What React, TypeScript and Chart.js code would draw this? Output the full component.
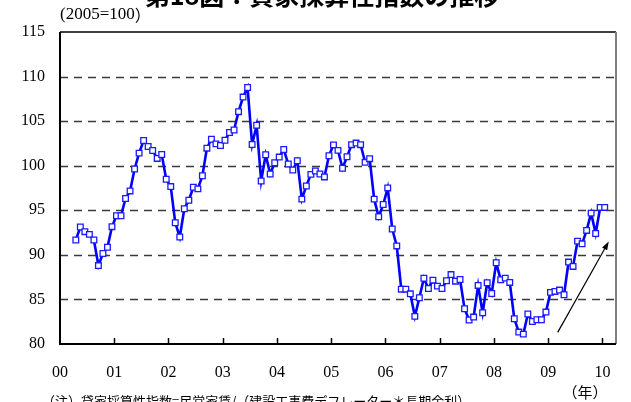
import { useEffect, useRef } from "react";
import { Chart, registerables } from "chart.js";

Chart.register(...registerables);

const TITLE = "第18図：貸家採算性指数の推移";
const UNIT_NOTE = "(2005=100";
const UNIT_CLOSE = "）";
const YEAR_UNIT = "（年）";
const FOOTNOTE = "（注）貸家採算性指数=民営家賃/（建設工事費デフレーター＊長期金利）";

// x axis counts months from January 2000; one tick label per year
const YEAR_LABELS = ["00", "01", "02", "03", "04", "05", "06", "07", "08", "09", "10"];
const AXIS_MONTHS = 123;
// first observation: April 2000 (month index 3)
const FIRST_MONTH = 3;

// monthly index values, April 2000 – January 2010
const INDEX_VALUES = [
  91.67, 93.12, 92.6, 92.3, 91.67, 88.8, 90.15, 90.85, 93.16, 94.39, 94.39, 96.32,
  97.17, 99.63, 101.41, 102.83, 102.16, 101.71, 100.82, 101.26, 98.48, 97.66, 93.6, 92.0,
  95.17, 96.13, 97.58, 97.4, 98.88, 101.97, 102.97, 102.45, 102.27, 102.86, 103.72, 104.01,
  106.06, 107.7, 108.77, 102.38, 104.54, 98.29, 101.23, 99.07, 100.33, 100.97, 101.82, 100.19,
  99.52, 100.56, 96.25, 97.73, 99.03, 99.41, 99.07, 98.74, 101.12, 102.34, 101.72, 99.71,
  101.01, 102.36, 102.54, 102.36, 100.38, 100.79, 96.25, 94.27, 95.65, 97.51, 92.9, 91.0,
  86.15, 86.15, 85.63, 83.1, 85.19, 87.38, 86.23, 87.16, 86.49, 86.23, 87.09, 87.79,
  87.05, 87.23, 83.96, 82.69, 83.02, 86.57, 83.5, 86.87, 85.67, 89.11, 87.21, 87.39,
  86.91, 82.83, 81.34, 81.11, 83.36, 82.53, 82.72, 82.72, 83.58, 85.79, 85.9, 86.05,
  85.52, 89.19, 88.7, 91.54, 91.24, 92.74, 94.68, 92.4, 95.32, 95.32,
];

const Y_MIN = 80;
const Y_MAX = 115;
const Y_STEP = 5;

// trend arrow, in (month, index) units
const ARROW_FROM = { month: 110.1, value: 81.3 };
const ARROW_TO = { month: 121.4, value: 91.5 };

const SERIF = '"Liberation Serif", "Times New Roman", serif';
const CJK = '"Noto Sans CJK JP", sans-serif';

// dashed horizontal guides at the inner y ticks
const dashedGrid = {
  id: "dashedGrid",
  beforeDatasetsDraw(chart: any) {
    const { ctx, chartArea: a, scales } = chart;
    ctx.save();
    ctx.strokeStyle = "#3a3a3a";
    ctx.lineWidth = 1.4;
    ctx.setLineDash([8, 6]);
    for (let v = Y_MIN + Y_STEP; v < Y_MAX; v += Y_STEP) {
      const py = Math.round(scales.y.getPixelForValue(v)) + 0.5;
      ctx.beginPath();
      ctx.moveTo(a.left, py);
      ctx.lineTo(a.right, py);
      ctx.stroke();
    }
    ctx.restore();
  },
};

const decorations = {
  id: "decorations",
  afterDraw(chart: any) {
    const { ctx, chartArea: a, scales } = chart;
    const xs = scales.x;
    const ys = scales.y;
    ctx.save();

    // year tick marks pointing into the plot
    ctx.strokeStyle = "#000";
    ctx.lineWidth = 1.5;
    YEAR_LABELS.forEach((_, k) => {
      if (k === 0) return;
      const px = Math.round(xs.getPixelForValue(k * 12)) + 0.5;
      ctx.beginPath();
      ctx.moveTo(px, a.bottom);
      ctx.lineTo(px, a.bottom - 6);
      ctx.stroke();
    });

    // plot frame
    ctx.lineWidth = 1.6;
    ctx.strokeStyle = "#000";
    ctx.beginPath();
    ctx.moveTo(a.left, a.top);
    ctx.lineTo(a.right, a.top);
    ctx.stroke();
    ctx.strokeStyle = "#808080";
    ctx.lineWidth = 2;
    ctx.beginPath();
    ctx.moveTo(a.right, a.top);
    ctx.lineTo(a.right, a.bottom);
    ctx.stroke();
    ctx.strokeStyle = "#000";
    ctx.lineWidth = 2;
    ctx.beginPath();
    ctx.moveTo(a.left, a.top);
    ctx.lineTo(a.left, a.bottom);
    ctx.lineTo(a.right, a.bottom);
    ctx.stroke();

    // trend arrow
    const x0 = xs.getPixelForValue(ARROW_FROM.month);
    const y0 = ys.getPixelForValue(ARROW_FROM.value);
    const x1 = xs.getPixelForValue(ARROW_TO.month);
    const y1 = ys.getPixelForValue(ARROW_TO.value);
    const ang = Math.atan2(y1 - y0, x1 - x0);
    const head = 9;
    ctx.strokeStyle = "#000";
    ctx.fillStyle = "#000";
    ctx.lineWidth = 1.2;
    ctx.beginPath();
    ctx.moveTo(x0, y0);
    ctx.lineTo(x1 - Math.cos(ang) * head * 0.8, y1 - Math.sin(ang) * head * 0.8);
    ctx.stroke();
    ctx.beginPath();
    ctx.moveTo(x1, y1);
    ctx.lineTo(x1 - head * Math.cos(ang - 0.33), y1 - head * Math.sin(ang - 0.33));
    ctx.lineTo(x1 - head * Math.cos(ang + 0.33), y1 - head * Math.sin(ang + 0.33));
    ctx.closePath();
    ctx.fill();

    // texts
    ctx.fillStyle = "#000";
    ctx.font = `bold 25px ${CJK}`;
    ctx.textAlign = "center";
    ctx.textBaseline = "alphabetic";
    ctx.fillText(TITLE, 322, 5);

    ctx.font = `17px ${SERIF}`;
    ctx.textAlign = "left";
    ctx.textBaseline = "middle";
    ctx.fillText(UNIT_NOTE, 60, 15);
    const noteW = ctx.measureText(UNIT_NOTE).width;
    ctx.font = `16px ${CJK}`;
    ctx.fillText(UNIT_CLOSE, 60 + noteW, 15);

    ctx.font = `15px ${CJK}`;
    ctx.textAlign = "center";
    ctx.fillText(YEAR_UNIT, 585, 392);

    ctx.font = `13px ${CJK}`;
    ctx.textAlign = "left";
    ctx.textBaseline = "alphabetic";
    ctx.fillText(FOOTNOTE, 42, 406);

    ctx.restore();
  },
};

export default function App() {
  const ref = useRef<HTMLCanvasElement>(null);

  useEffect(() => {
    const canvas = ref.current;
    if (!canvas) return;
    const chart = new Chart(canvas, {
      type: "line",
      data: {
        datasets: [
          {
            data: INDEX_VALUES.map((v, i) => ({ x: FIRST_MONTH + i + 0.5, y: v })),
            borderColor: "#0000ff",
            borderWidth: 2.6,
            pointStyle: "rect",
            pointRadius: 4,
            pointBorderWidth: 1.3,
            pointBackgroundColor: "#ffffff",
            pointBorderColor: "#1a1aff",
            tension: 0,
          },
        ],
      },
      options: {
        responsive: false,
        animation: false,
        devicePixelRatio: 1,
        layout: { padding: { left: 0, top: 32, right: 15, bottom: 0 } },
        plugins: {
          legend: { display: false },
          tooltip: { enabled: false },
          title: { display: false },
        },
        scales: {
          x: {
            type: "linear",
            min: 0,
            max: AXIS_MONTHS,
            afterFit: (s: any) => {
              s.height = 58;
            },
            afterBuildTicks: (s: any) => {
              s.ticks = YEAR_LABELS.map((_, k) => ({ value: k * 12 }));
            },
            grid: { display: false, drawTicks: false },
            border: { display: false },
            ticks: {
              autoSkip: false,
              maxRotation: 0,
              padding: 19,
              color: "#000",
              font: { family: SERIF, size: 16 },
              callback: (v: any) => YEAR_LABELS[Math.round(Number(v) / 12)],
            },
          },
          y: {
            min: Y_MIN,
            max: Y_MAX,
            afterFit: (s: any) => {
              s.width = 60;
            },
            grid: { display: false, drawTicks: false },
            border: { display: false },
            ticks: {
              stepSize: Y_STEP,
              padding: 15,
              color: "#000",
              font: { family: SERIF, size: 16 },
            },
          },
        },
      },
      plugins: [dashedGrid, decorations],
    });
    return () => chart.destroy();
  }, []);

  return (
    <div style={{ position: "absolute", left: 0, top: 0, width: 631, height: 402 }}>
      <canvas ref={ref} width={631} height={402} style={{ display: "block" }} />
    </div>
  );
}
